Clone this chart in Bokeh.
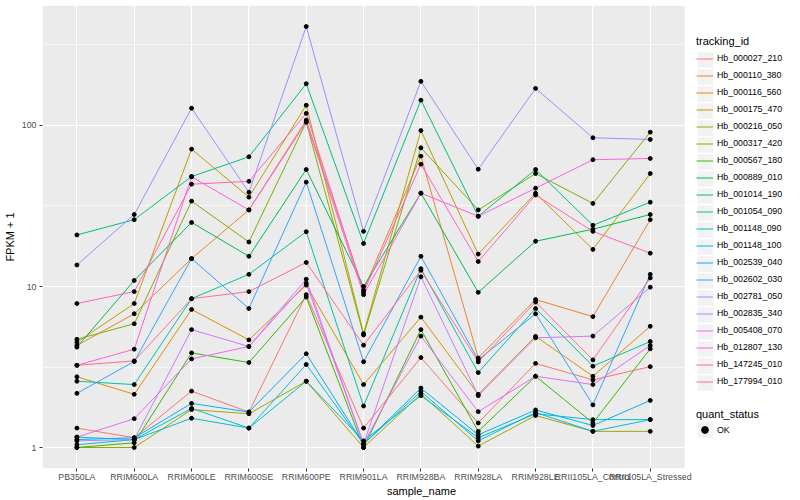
from bokeh.plotting import figure
from bokeh.models import (Range1d, FixedTicker, Legend, LegendItem, ColumnDataSource,
                          BoxAnnotation, Title)
from bokeh.embed import file_html
from bokeh.resources import INLINE

samples = ["PB350LA", "RRIM600LA", "RRIM600LE", "RRIM600SE", "RRIM600PE", "RRIM901LA",
           "RRIM928BA", "RRIM928LA", "RRIM928LE", "RRII105LA_Control", "RRII105LA_Stressed"]

tracking_ids = ["Hb_000027_210", "Hb_000110_380", "Hb_000116_560", "Hb_000175_470",
                "Hb_000216_050", "Hb_000317_420", "Hb_000567_180", "Hb_000889_010",
                "Hb_001014_190", "Hb_001054_090", "Hb_001148_090", "Hb_001148_100",
                "Hb_002539_040", "Hb_002602_030", "Hb_002781_050", "Hb_002835_340",
                "Hb_005408_070", "Hb_012807_130", "Hb_147245_010", "Hb_177994_010"]

colors = ["#F8766D", "#EA8331", "#D89000", "#C09B00", "#A3A500", "#7CAE00", "#39B600",
          "#00BB4E", "#00BF7D", "#00C1A3", "#00BFC4", "#00BAE0", "#00B0F6", "#35A2FF",
          "#9590FF", "#C77CFF", "#E76BF3", "#FA62DB", "#FF62BC", "#FF6C91"]

# FPKM + 1 per sample
hb_000027_210 = [1.32, 1.15, 2.24, 1.66, 8.9, 1.32, 3.62, 1.42, 3.33, 2.63, 3.18]
hb_000110_380 = [4.3, 6.77, 14.9, 29.9, 108, 9.5, 64.5, 3.6, 8.3, 6.5, 26]
hb_000116_560 = [2.75, 2.14, 7.2, 4.66, 10.2, 2.46, 6.45, 2.14, 4.9, 2.77, 5.66]
hb_000175_470 = [4.5, 7.84, 71.3, 35.9, 133.6, 5.1, 93, 15.9, 38, 17, 50.3]
hb_000216_050 = [1.0, 1.0, 1.72, 1.62, 2.58, 1.0, 2.15, 1.02, 1.58, 1.26, 1.26]
hb_000317_420 = [4.7, 5.87, 33.9, 18.9, 105, 5.0, 72.7, 29.9, 50.3, 32.8, 90.9]
hb_000567_180 = [1.0, 1.07, 3.87, 3.37, 8.6, 1.0, 5.4, 1.26, 2.77, 1.42, 4.1]
hb_000889_010 = [4.2, 10.9, 25, 15.4, 53.3, 10.0, 38, 9.2, 19.1, 22.7, 28]
hb_001014_190 = [20.9, 26, 48.2, 63.9, 181.6, 18.5, 143.6, 27.3, 53.3, 24, 33.4]
hb_001054_090 = [2.58, 2.46, 8.4, 11.9, 21.9, 1.81, 12.9, 2.92, 7.3, 3.2, 4.55]
hb_001148_090 = [1.16, 1.12, 1.52, 1.32, 2.58, 1.1, 2.1, 1.15, 1.62, 1.49, 1.49]
hb_001148_100 = [1.04, 1.12, 1.75, 1.32, 3.28, 1.05, 2.23, 1.1, 1.65, 1.26, 1.49]
hb_002539_040 = [1.12, 1.15, 1.88, 1.66, 3.82, 1.05, 2.34, 1.2, 1.71, 1.37, 1.96]
hb_002602_030 = [2.17, 3.42, 14.9, 7.3, 44.5, 3.41, 15.4, 3.5, 6.77, 1.84, 11.9]
hb_002781_050 = [13.6, 28, 128, 38.5, 412, 22, 188, 53.5, 170, 83.9, 81.9]
hb_002835_340 = [1.1, 1.12, 5.4, 4.24, 11.1, 1.05, 11.5, 2.1, 4.8, 4.92, 9.9]
hb_005408_070 = [1.16, 1.51, 3.55, 4.24, 10.5, 1.05, 4.92, 1.67, 2.77, 2.46, 4.3]
hb_012807_130 = [3.24, 4.08, 48, 29.9, 105, 8.9, 38, 27.3, 40.8, 61.3, 62.4]
hb_147245_010 = [7.84, 9.3, 43.2, 45, 118.9, 9.2, 57.5, 14.3, 37, 22, 16.1]
hb_177994_010 = [3.24, 3.45, 8.4, 9.3, 14.1, 4.32, 12.6, 3.4, 8.0, 3.5, 11.3]

series_values = [hb_000027_210, hb_000110_380, hb_000116_560, hb_000175_470,
                 hb_000216_050, hb_000317_420, hb_000567_180, hb_000889_010,
                 hb_001014_190, hb_001054_090, hb_001148_090, hb_001148_100,
                 hb_002539_040, hb_002602_030, hb_002781_050, hb_002835_340,
                 hb_005408_070, hb_012807_130, hb_147245_010, hb_177994_010]

quant_status = "OK"

FONT = "Liberation Sans"
x_idx = [samples.index(s) for s in samples]
n = len(samples)

# ---- geometry (screen pixels) ----
FRAME_LEFT = 41
FRAME_BOTTOM = 468
PANEL_PX = 643.0          # width of the grey data panel
FRAME_PX = 759.0          # frame also covers the legend column
PX_PER_DECADE = 161.0
LOG_BOTTOM = -0.1304
x_span = n + 0.2
x_end = -0.6 + x_span * FRAME_PX / PANEL_PX


def sx_to_data(sx):
    return -0.6 + (sx - FRAME_LEFT) * x_span / PANEL_PX


def sy_to_data(sy):
    return 10 ** (LOG_BOTTOM + (FRAME_BOTTOM - sy) / PX_PER_DECADE)


p = figure(width=800, height=500, output_backend="svg", toolbar_location=None,
           y_axis_type="log",
           x_range=Range1d(-0.6, x_end),
           y_range=Range1d(10 ** LOG_BOTTOM, 10 ** 2.7453),
           min_border_left=FRAME_LEFT, min_border_right=0, min_border_top=5,
           min_border_bottom=32)

p.background_fill_color = "white"
p.border_fill_color = "white"
p.outline_line_color = None

panel_bg = BoxAnnotation(left=-0.6, right=n - 0.4, fill_color="#EBEBEB", fill_alpha=1,
                         line_color=None, level="image")
p.add_layout(panel_bg)

p.xaxis.ticker = FixedTicker(ticks=x_idx)
p.xaxis.major_label_overrides = {i: s for i, s in zip(x_idx, samples)}
p.yaxis.ticker = FixedTicker(ticks=[1, 10, 100], minor_ticks=[10 ** 0.5, 10 ** 1.5, 10 ** 2.5])
p.yaxis.major_label_overrides = {1: "1", 10: "10", 100: "100"}

for ax in (p.xaxis[0], p.yaxis[0]):
    ax.axis_line_color = None
    ax.major_tick_in = 0
    ax.major_tick_out = 3
    ax.major_tick_line_color = "#333333"
    ax.minor_tick_line_color = None
    ax.major_label_text_font = FONT
    ax.major_label_text_font_size = "8.8px"
    ax.major_label_text_color = "#4D4D4D"
    ax.major_label_standoff = 2
    ax.axis_label_text_font = FONT
    ax.axis_label_text_font_size = "11px"
    ax.axis_label_text_font_style = "normal"
    ax.axis_label_text_color = "black"
    ax.axis_label_standoff = 3
p.xaxis.major_label_standoff = 0

p.yaxis.axis_label = "FPKM + 1"

xtitle = Title(text="sample_name", align="center", offset=-59, text_font=FONT,
               text_font_size="11px", text_font_style="normal", text_color="black",
               standoff=0, vertical_align="top")
p.add_layout(xtitle, "below")

p.xgrid.grid_line_color = "white"
p.xgrid.grid_line_width = 1.1
p.ygrid.grid_line_color = "white"
p.ygrid.grid_line_width = 1.1
p.ygrid.minor_grid_line_color = "white"
p.ygrid.minor_grid_line_width = 0.55

# legend key backgrounds (grey95 squares)
key_centers = [59.5 + 17 * i for i in range(len(tracking_ids))] + [429.5]
p.quad(left=[sx_to_data(697)] * len(key_centers),
       right=[sx_to_data(712.7)] * len(key_centers),
       top=[sy_to_data(c - 7.7) for c in key_centers],
       bottom=[sy_to_data(c + 7.7) for c in key_centers],
       fill_color="#F2F2F2", line_color=None)

line_renderers = []
for tid, col, vals in zip(tracking_ids, colors, series_values):
    src = ColumnDataSource(dict(x=x_idx, y=vals))
    r = p.line("x", "y", source=src, line_color=col, line_width=1)
    line_renderers.append(r)

px, py = [], []
for vals in series_values:
    px.extend(x_idx)
    py.extend(vals)
pts = p.scatter(px, py, marker="circle", size=3.9, fill_color="black", line_color="black")

leg1 = Legend(items=[LegendItem(label=t, renderers=[r]) for t, r in zip(tracking_ids, line_renderers)],
              title="tracking_id", location=(654, 78.5))
leg2 = Legend(items=[LegendItem(label=quant_status, renderers=[pts])],
              title="quant_status", location=(654, 30))
for lg in (leg1, leg2):
    lg.orientation = "vertical"
    lg.margin = 0
    lg.padding = 5
    lg.spacing = 0
    lg.glyph_width = 17
    lg.glyph_height = 17
    lg.label_height = 17
    lg.label_standoff = 4
    lg.label_text_font = FONT
    lg.label_text_font_size = "8.8px"
    lg.label_text_color = "black"
    lg.title_text_font = FONT
    lg.title_text_font_size = "11px"
    lg.title_text_font_style = "normal"
    lg.title_text_color = "black"
    lg.title_standoff = 3
    lg.background_fill_alpha = 0
    lg.border_line_color = None
    p.add_layout(lg)
leg2.title_standoff = 1

open("out.html", "w").write(file_html(p, INLINE))
